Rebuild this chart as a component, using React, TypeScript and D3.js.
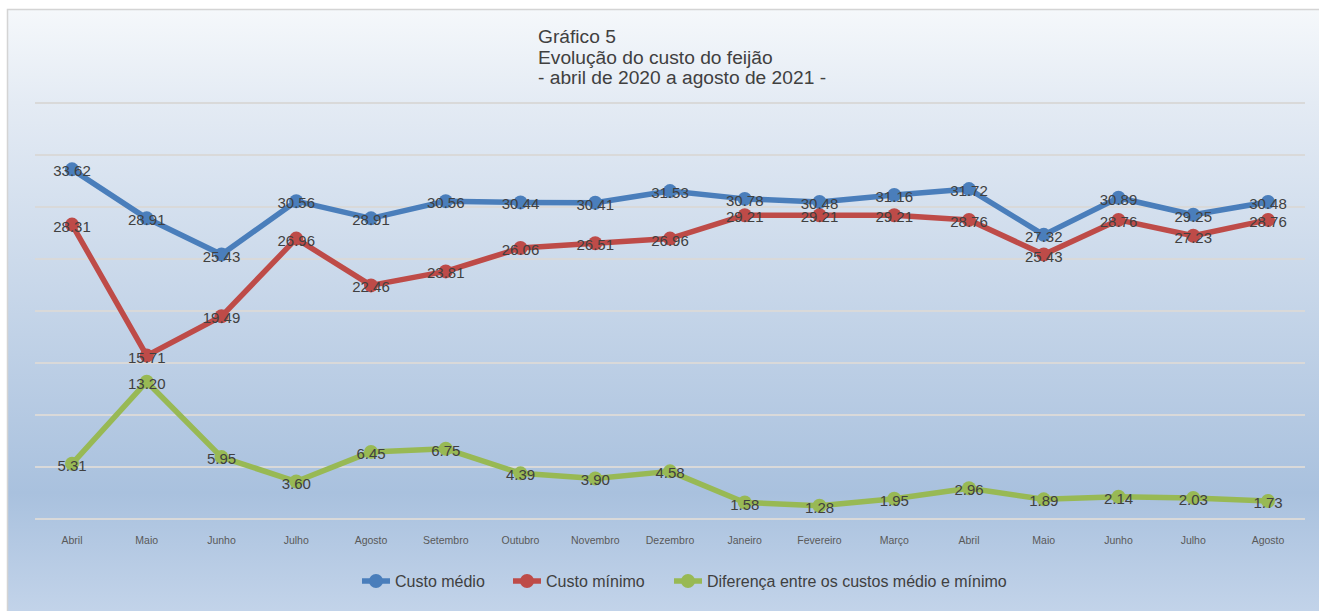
import React from "react";
import * as d3 from "d3";

const months = ["Abril","Maio","Junho","Julho","Agosto","Setembro","Outubro","Novembro","Dezembro","Janeiro","Fevereiro","Março","Abril","Maio","Junho","Julho","Agosto"];
const custoMedio = [33.62,28.91,25.43,30.56,28.91,30.56,30.44,30.41,31.53,30.78,30.48,31.16,31.72,27.32,30.89,29.25,30.48];
const custoMinimo = [28.31,15.71,19.49,26.96,22.46,23.81,26.06,26.51,26.96,29.21,29.21,29.21,28.76,25.43,28.76,27.23,28.76];
const diferenca = [5.31,13.20,5.95,3.60,6.45,6.75,4.39,3.90,4.58,1.58,1.28,1.95,2.96,1.89,2.14,2.03,1.73];
const yTicks = [0,5,10,15,20,25,30,35,40];
const titleLines = ["Gráfico 5","Evolução do custo do feijão","- abril de 2020 a agosto de 2021 -"];
const seriesNames = ["Custo médio","Custo mínimo","Diferença entre os custos médio e mínimo"];

const W = 1319, H = 611;
const FONT = "'Liberation Sans', Arial, sans-serif";
const colors = ["#4a7ebb","#be4b48","#98b954"];
const legendX = [376, 527, 688];

export default function App() {
  const x = d3.scalePoint<number>().domain(d3.range(months.length)).range([72, 1268]);
  const y = d3.scaleLinear().domain([0, 40]).range([519, 103]);
  const line = d3.line<number>().x((_, i) => x(i)!).y(d => y(d));
  const series = [custoMedio, custoMinimo, diferenca];
  return (
    <svg width={W} height={H} style={{ position: "absolute", left: 0, top: 0 }} fontFamily={FONT}>
      <defs>
        <linearGradient id="bg" x1="0" y1="0" x2="0" y2="1">
          <stop offset="0" stopColor="#f5f8fb" />
          <stop offset="0.15" stopColor="#e4ebf4" />
          <stop offset="0.78" stopColor="#a9c1de" />
          <stop offset="1" stopColor="#c6d6eb" />
        </linearGradient>
      </defs>
      <rect x={0} y={0} width={W} height={H} fill="#ffffff" />
      <rect x={7.5} y={9.5} width={1320} height={620} fill="url(#bg)" stroke="#d4d4d4" strokeWidth={1.5} />
      {titleLines.map((t, i) => (
        <text key={i} x={538} y={43 + i * 20.5} fontSize={19.2} fill="#404040">{t}</text>
      ))}
      {yTicks.map(t => (
        <line key={t} x1={35} x2={1305} y1={y(t)} y2={y(t)} stroke="#d9d9d9" strokeWidth={2} />
      ))}
      {months.map((m, i) => (
        <text key={i} x={x(i)} y={544} fontSize={10.5} fill="#595959" textAnchor="middle">{m}</text>
      ))}
      {series.map((s, k) => (
        <g key={k}>
          <path d={line(s) || ""} fill="none" stroke={colors[k]} strokeWidth={5.5} strokeLinejoin="round" />
          {s.map((v, i) => (
            <circle key={i} cx={x(i)} cy={y(v)} r={7} fill={colors[k]} />
          ))}
        </g>
      ))}
      {series.map((s, k) => (
        <g key={"l" + k}>
          {s.map((v, i) => (
            <text key={i} x={x(i)} y={y(v) + 7} fontSize={15} fill="#404040" textAnchor="middle">{v.toFixed(2)}</text>
          ))}
        </g>
      ))}
      {seriesNames.map((n, k) => (
        <g key={"lg" + k}>
          <line x1={legendX[k] - 14} x2={legendX[k] + 14} y1={581} y2={581} stroke={colors[k]} strokeWidth={5.5} />
          <circle cx={legendX[k]} cy={581} r={7} fill={colors[k]} />
          <text x={legendX[k] + 19} y={586.5} fontSize={16} fill="#404040">{n}</text>
        </g>
      ))}
    </svg>
  );
}
